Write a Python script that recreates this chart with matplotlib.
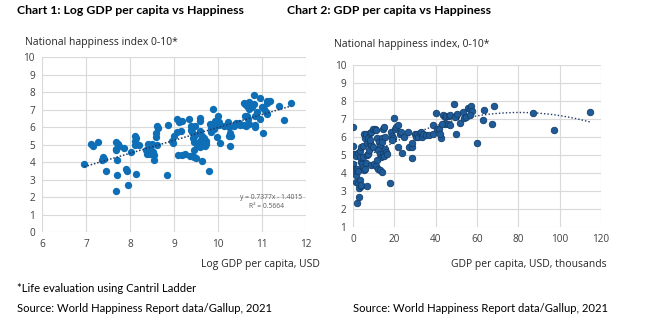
import numpy as np
import matplotlib
matplotlib.use('Agg')
import matplotlib.pyplot as plt

# chart 1: log GDP per capita vs happiness
log_gdp = [6.96, 7.11, 7.17, 7.27, 7.38, 7.41, 7.36, 7.46, 7.69, 7.72, 7.74, 7.68, 7.69,
           7.71, 7.70, 7.69, 7.86, 7.91, 7.94, 7.95, 8.03, 8.12, 8.14, 8.11, 8.11, 8.20,
           8.14, 8.36, 8.42, 8.48, 8.50, 8.55, 8.55, 8.39, 8.45, 8.53, 8.61, 8.64, 8.58,
           8.60, 8.61, 8.84, 8.86, 8.95, 8.97, 9.00, 9.07, 9.11, 9.18, 9.07, 9.08, 9.18,
           9.26, 9.37, 9.41, 9.45, 9.34, 9.38, 9.43, 9.41, 9.47, 9.48, 9.52, 9.46, 9.45,
           9.51, 9.60, 9.60, 9.58, 9.63, 9.60, 9.66, 9.59, 9.64, 9.68, 9.72, 9.73, 9.70,
           9.80, 9.81, 9.84, 9.83, 9.86, 9.89, 9.94, 9.96, 9.92, 10.00, 10.02, 10.03, 9.98,
           10.05, 10.13, 10.20, 10.23, 10.26, 10.28, 10.25, 10.27, 10.30, 10.36, 10.40,
           10.43, 10.48, 10.51, 10.58, 10.64, 10.62, 10.67, 10.68, 10.70, 10.62, 10.66,
           10.70, 10.73, 10.77, 10.81, 10.81, 10.96, 11.11, 11.38, 11.66, 10.70, 10.58,
           10.85, 10.89, 10.96, 10.83, 10.85, 11.04, 11.08, 11.11, 11.00, 11.02, 11.49,
           11.11, 11.19, 9.17, 9.39]
happy1 = [3.86, 5.04, 4.94, 5.13, 4.28, 4.16, 4.13, 3.46, 5.13, 5.04, 4.92, 4.75, 4.66,
          4.09, 3.27, 2.36, 4.79, 3.61, 3.48, 2.66, 4.60, 5.51, 5.38, 5.23, 4.98, 4.96,
          3.33, 4.70, 5.04, 4.70, 5.04, 4.41, 4.14, 4.45, 4.47, 4.56, 6.08, 5.93, 5.68,
          5.44, 4.98, 3.27, 6.14, 5.23, 5.10, 5.48, 6.46, 6.31, 6.37, 5.70, 4.43, 4.43,
          4.47, 4.32, 4.32, 4.28, 6.46, 5.84, 5.38, 5.70, 6.03, 5.57, 4.98, 4.66, 5.13,
          4.22, 6.50, 6.37, 5.80, 5.51, 5.23, 5.04, 4.85, 4.05, 5.38, 5.19, 5.04, 4.94,
          3.46, 6.18, 5.95, 5.70, 6.08, 7.03, 6.37, 6.12, 5.89, 6.65, 6.14, 6.27, 5.42,
          5.10, 6.03, 6.14, 6.27, 5.99, 5.67, 5.51, 4.94, 5.51, 6.08, 6.22,
          6.18, 6.22, 6.14, 6.14, 6.08, 6.61, 6.65, 6.46, 6.18, 7.32, 7.22,
          7.03, 7.22, 7.13, 7.32, 7.81, 7.68, 7.49, 7.20, 7.39, 7.43, 7.39,
          6.65, 6.84, 6.46, 6.14, 5.99, 7.03, 6.84, 6.75, 7.13, 5.67, 6.41,
          7.38, 7.50, 5.80, 6.08]
slope, intercept = 0.7377, -1.4015

# chart 2: GDP per capita (USD thousands) vs happiness
gdp = [0, 0, 0, 0, 0, 0.8, 1.6, 2.4, 3.2, 4.0, 4.9, 1.3, 0.8, 1.9, 2.4, 1.6, 2.4, 3.2, 2.9,
       3.6, 2.1, 2.9, 4.0, 6.8, 3.7, 4.5, 4.9, 5.3, 5.7, 6.1, 3.2, 4.9, 6.5, 7.3, 7.8, 5.3,
       5.7, 6.1, 6.5, 7.0, 8.1, 8.9, 9.4, 10.5, 11.3, 8.1, 8.6, 9.4, 8.1, 8.9, 10.2, 11.3,
       12.1, 12.9, 14.2, 11.8, 12.6, 12.9, 12.1, 12.9, 13.3, 11.8, 13.8, 14.2, 14.6, 14.9,
       15.4, 15.4, 14.6, 15.0, 15.9, 16.5, 17.8, 18.3, 18.6, 19.1, 18.6, 19.7, 20.2, 20.7,
       21.5, 21.8, 22.7, 23.0, 23.5, 24.6, 26.4, 27.2, 28.3, 28.6, 28.3, 29.9, 30.4, 31.1,
       31.6, 32.4, 32.7, 33.2, 34.0, 35.1, 36.9, 38.8, 38.8, 40.1, 40.8, 41.7, 42.6, 42.1,
       43.4, 44.3, 45.1, 46.2, 47.1, 44.7, 43.0, 45.8, 46.8, 48.9, 49.8, 49.4, 50.2, 49.8,
       51.8, 53.1, 53.7, 54.7, 55.5, 56.6, 57.1, 57.4, 56.6, 60.2, 62.8, 63.4, 67.2, 68.4,
       86.9, 97.4, 114.6]
happy2 = [6.57, 5.49, 5.08, 4.52, 4.21, 5.08, 4.93, 5.12, 5.23, 5.45, 5.49, 3.88, 4.15, 4.21,
          4.10, 3.50, 3.45, 3.60, 3.19, 3.26, 2.35, 2.67, 3.32, 3.26, 4.62, 4.49, 4.34, 4.15,
          4.25, 4.53, 4.90, 4.90, 4.99, 5.08, 5.27, 6.19, 5.97, 6.16, 5.64, 5.92, 6.22, 6.29,
          6.42, 6.47, 6.38, 5.64, 5.55, 5.42, 5.86, 4.43, 4.49, 4.38, 4.25, 4.19, 4.06, 5.92,
          5.73, 5.49, 5.27, 5.08, 4.90, 4.75, 5.92, 5.73, 6.42, 6.53, 6.01, 5.36, 5.08, 4.93,
          5.17, 5.08, 3.47, 6.29, 6.05, 5.92, 5.82, 7.03, 6.42, 6.53, 6.66, 5.42, 6.16, 6.29,
          5.12, 6.01, 6.29, 5.45, 5.42, 5.64, 4.86, 6.19, 6.01, 6.16, 6.01, 6.22, 6.29, 6.01,
          6.19, 6.10, 6.10, 6.19, 6.66, 7.35, 6.47, 6.47, 5.97, 6.19, 7.22, 7.12, 7.16, 7.16,
          7.22, 6.75, 6.75, 6.75, 6.66, 7.83, 7.18, 7.09, 7.27, 6.16, 6.79, 7.40, 7.03, 7.12,
          7.59, 7.53, 7.72, 7.46, 7.22, 5.69, 6.97, 7.49, 6.71, 7.72, 7.31, 6.38, 7.40]

sans = ['Open Sans', 'DejaVu Sans']
cal = ['Lato', 'DejaVu Sans']
tick_c = '#404040'
grid_c = '#d9d9d9'

fig = plt.figure(figsize=(6.7, 3.25), dpi=100)

def style(ax):
    ax.grid(True, color=grid_c, linewidth=0.8)
    ax.set_axisbelow(True)
    for s in ax.spines.values():
        s.set_visible(False)
    ax.tick_params(length=0, labelsize=7.2, colors=tick_c, pad=5)
    for lab in ax.get_xticklabels() + ax.get_yticklabels():
        lab.set_family(sans)

# chart 1
ax1 = fig.add_axes([0.0627, 0.286, 0.394, 0.5386])
ax1.set_xlim(6, 12)
ax1.set_ylim(0, 10)
ax1.set_xticks(range(6, 13))
ax1.set_yticks(range(0, 11))
xs = np.array([min(log_gdp), max(log_gdp)])
ax1.plot(xs, slope * xs + intercept, color='#1f3864', lw=1.1, ls=(0, (1, 1.2)), zorder=3)
ax1.scatter(log_gdp, happy1, s=28, color='#0f6fb6', linewidths=0, zorder=2)
style(ax1)
ax1.text(10.5, 1.9, 'y = 0.7377x - 1.4015', fontsize=4.9, color='#595959', family=sans)
ax1.text(10.7, 1.35, 'R² = 0.5664', fontsize=4.9, color='#595959', family=sans)

# chart 2
ax2 = fig.add_axes([0.527, 0.3015, 0.370, 0.4985])
ax2.set_xlim(0, 120)
ax2.set_ylim(1, 10)
ax2.set_xticks(range(0, 121, 20))
ax2.set_yticks(range(1, 11))
coef = np.polyfit(gdp, happy2, 2)
xc = np.linspace(min(gdp), max(gdp), 200)
ax2.plot(xc, np.polyval(coef, xc), color='#1f3864', lw=1.0, ls=(0, (1, 1.5)), zorder=1.5)
ax2.scatter(gdp, happy2, s=22, color='#1f5b98', edgecolors='#133f6b', linewidths=0.6, zorder=2)
style(ax2)

# titles and labels
fig.text(17 / 670, 1 - 10 / 325, 'Chart 1: Log GDP per capita vs Happiness', fontsize=8.8,
         fontweight='bold', family=cal, va='center')
fig.text(287 / 670, 1 - 10 / 325, 'Chart 2: GDP per capita vs Happiness', fontsize=8.8,
         fontweight='bold', family=cal, va='center')
fig.text(25 / 670, 1 - 42 / 325, 'National happiness index 0-10*', fontsize=7.5,
         family=sans, color='#262626', va='center')
fig.text(334 / 670, 1 - 44 / 325, 'National happiness index, 0-10*', fontsize=7.5,
         family=sans, color='#262626', va='center')
fig.text(320 / 670, 1 - 264 / 325, 'Log GDP per capita, USD', fontsize=7.5,
         family=sans, color='#262626', va='center', ha='right')
fig.text(607 / 670, 1 - 264 / 325, 'GDP per capita, USD, thousands', fontsize=7.5,
         family=sans, color='#262626', va='center', ha='right')
fig.text(17 / 670, 1 - 289 / 325, '*Life evaluation using Cantril Ladder', fontsize=8.1,
         family=cal, va='center')
fig.text(17 / 670, 1 - 309 / 325, 'Source: World Happiness Report data/Gallup, 2021',
         fontsize=8.1, family=cal, va='center')
fig.text(353 / 670, 1 - 309 / 325, 'Source: World Happiness Report data/Gallup, 2021',
         fontsize=8.1, family=cal, va='center')

fig.savefig('out.png', dpi=100)
